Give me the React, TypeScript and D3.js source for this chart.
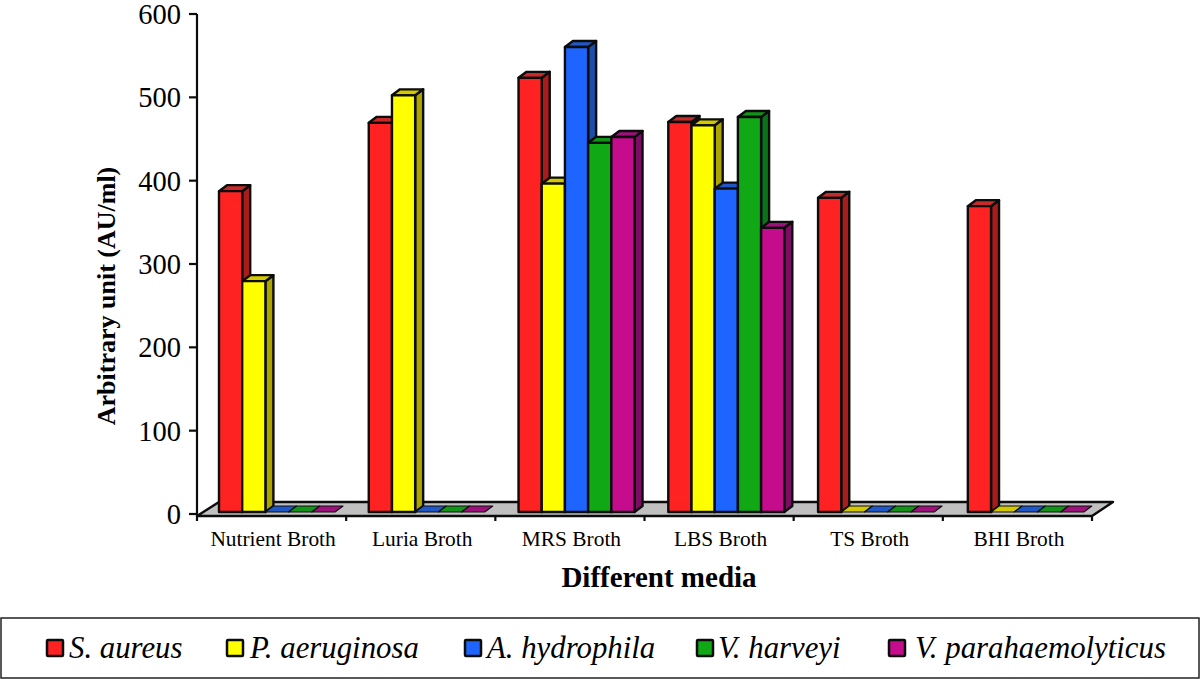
import React from "react";
import * as d3 from "d3";

const categories = ["Nutrient Broth", "Luria Broth", "MRS Broth", "LBS Broth", "TS Broth", "BHI Broth"];
const sAureus = [385, 467, 521, 468, 377, 367];
const pAeruginosa = [277, 500, 394, 464, 0, 0];
const aHydrophila = [0, 0, 558, 388, 0, 0];
const vHarveyi = [0, 0, 443, 474, 0, 0];
const vParahaemolyticus = [0, 0, 450, 341, 0, 0];
const yTicks = [0, 100, 200, 300, 400, 500, 600];

const series = [
  { name: "S. aureus", values: sAureus, front: "#fe2222", side: "#a81c1c", top: "#c82a2a" },
  { name: "P. aeruginosa", values: pAeruginosa, front: "#ffff00", side: "#aca400", top: "#d4c800" },
  { name: "A. hydrophila", values: aHydrophila, front: "#1e64fe", side: "#1c4fa8", top: "#2058c8" },
  { name: "V. harveyi", values: vHarveyi, front: "#10a814", side: "#0c7418", top: "#129418" },
  { name: "V. parahaemolyticus", values: vParahaemolyticus, front: "#c40c8c", side: "#7c0c64", top: "#a0107c" },
];

const legendSwatchX = [46, 226, 464, 696, 888];
const legendTextX = [69, 250, 487, 718, 915];

const serif = "'Liberation Serif', serif";
const axisX = 197;
const axisRight = 1092;
const dx = 8;
const dy = 6;
const barW = 23.2;

export default function App() {
  const y = d3.scaleLinear().domain([0, 600]).range([514, 14]);
  const yBar = d3.scaleLinear().domain([0, 600]).range([512, 12]);
  const x = d3.scaleBand<string>().domain(categories).range([axisX, axisRight]);
  const s = "#0c0c0c";

  return (
    <svg
      width={1200}
      height={679}
      style={{ position: "absolute", left: 0, top: 0, background: "#fff", fontFamily: serif }}
    >
      {/* floor */}
      <polygon
        points={`${axisX},516 219,502 1113,502 ${axisRight},516`}
        fill="#c0c0c0"
        stroke={s}
        strokeWidth={2.4}
        strokeLinejoin="round"
      />
      {/* bars */}
      {categories.map((c, ci) => {
        const gx = x(c)! + 22 + ci * 0.6;
        return (
          <g key={c}>
            {series.map((se, si) => {
              const x0 = gx + si * barW;
              const x1 = x0 + barW;
              const t = yBar(se.values[ci]);
              const b = yBar(0);
              const zero = se.values[ci] === 0;
              return (
                <g key={se.name} stroke={s} strokeWidth={zero ? 1.2 : 2.4} strokeLinejoin="round">
                  {!zero && (
                    <polygon points={`${x1},${t} ${x1 + dx},${t - dy} ${x1 + dx},${b - dy} ${x1},${b}`} fill={se.side} />
                  )}
                  <polygon points={`${x0},${t} ${x0 + dx},${t - dy} ${x1 + dx},${t - dy} ${x1},${t}`} fill={se.top} />
                  {!zero && <rect x={x0} y={t} width={barW} height={b - t} fill={se.front} />}
                </g>
              );
            })}
          </g>
        );
      })}
      {/* axes */}
      <g stroke={s} strokeWidth={2.2} fill="none">
        <line x1={axisX} y1={14} x2={axisX} y2={516} />
        <line x1={axisX} y1={516} x2={axisRight} y2={516} />
        {yTicks.map((t) => (
          <line key={t} x1={189} x2={axisX} y1={y(t)} y2={y(t)} />
        ))}
        {categories.map((c) => (
          <line key={c} x1={x(c)!} x2={x(c)!} y1={516} y2={521} />
        ))}
        <line x1={axisRight} x2={axisRight} y1={516} y2={521} />
      </g>
      {/* tick labels */}
      {yTicks.map((t) => (
        <text key={t} x={181} y={y(t) + 10} textAnchor="end" fontSize={28.5} fill="#000">
          {t}
        </text>
      ))}
      {categories.map((c) => (
        <text key={c} x={x(c)! + x.bandwidth() / 2 + 1.5} y={546} textAnchor="middle" fontSize={21.4} fill="#000">
          {c}
        </text>
      ))}
      <text
        transform="translate(115,296) rotate(-90)"
        textAnchor="middle"
        fontSize={26}
        fontWeight="bold"
        fill="#000"
      >
        Arbitrary unit (AU/ml)
      </text>
      <text x={659} y={587} textAnchor="middle" fontSize={29} fontWeight="bold" fill="#000">
        Different media
      </text>
      {/* legend */}
      <rect x={1} y={618} width={1198} height={60} fill="#fff" stroke="#222" strokeWidth={1.5} />
      {series.map((se, i) => (
        <g key={se.name}>
          <rect x={legendSwatchX[i] + 1} y={640} width={16} height={16} fill={se.front} stroke={s} strokeWidth={2.5} rx={1} />
          <text x={legendTextX[i]} y={658} fontSize={30.8} fontStyle="italic" fill="#000">
            {se.name}
          </text>
        </g>
      ))}
    </svg>
  );
}
